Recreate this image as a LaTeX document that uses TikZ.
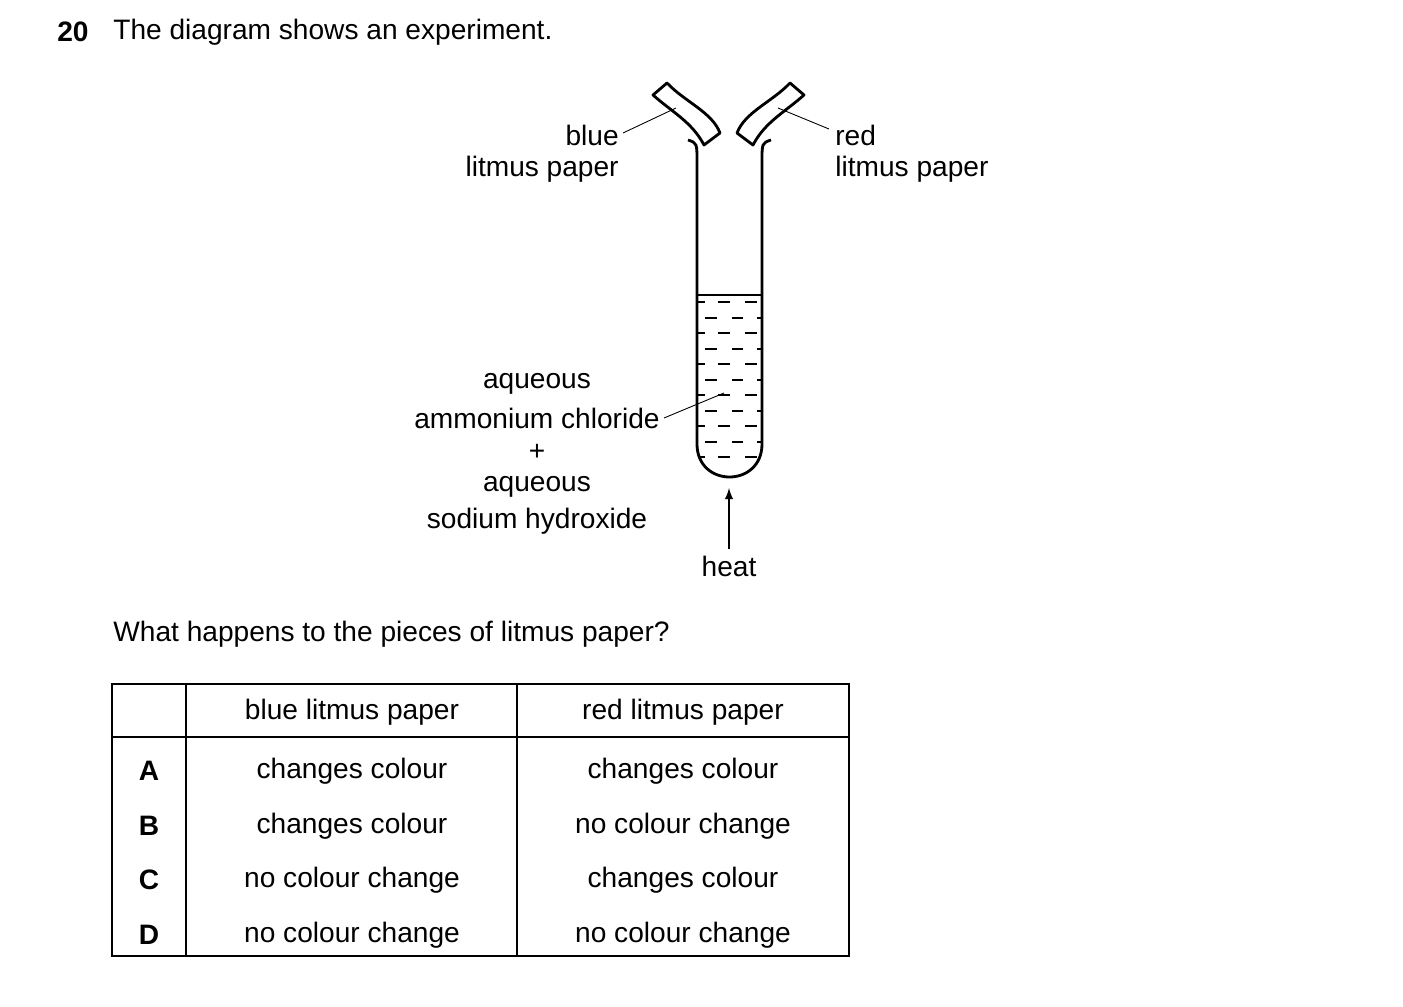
\documentclass[tikz,border=0pt]{standalone}
\usepackage{fontspec}
\setmainfont{Liberation Sans}
\begin{document}
\begin{tikzpicture}[x=0.02cm,y=-0.02cm]
\tikzset{txt/.style={inner sep=0pt,font=\fontsize{16}{19}\selectfont},
  wall/.style={black,line width=1.6pt},
  lead/.style={black,line width=0.5pt},
  grid/.style={black,line width=0.8pt}}
\useasboundingbox (0,0) rectangle (1403,1007);
\node [txt,anchor=west] (num) at (57,32) {\textbf{20}};
\node [txt,anchor=west] (intro) at (113,32) {The diagram shows an experiment.};
% test tube
\draw [wall] (688,140) .. controls (697,143) .. (697,162) -- (697,444)
  .. controls (697,488) and (762,488) .. (762,444) -- (762,162) .. controls (762,143) .. (771,140);
\draw [wall] (697,295) -- (762,295);
% liquid dashes
\foreach \y in {302,333,364,395,426,457}{
  \draw [black,line width=0.7pt] (698,\y) -- (705,\y) (718,\y) -- (730,\y) (745,\y) -- (757,\y);}
\foreach \y in {318,349,380,411,442}{
  \draw [black,line width=0.7pt] (705,\y) -- (717,\y) (732,\y) -- (743,\y) (757,\y) -- (762,\y);}
% litmus papers
\draw [wall,line join=round] (667,83) .. controls (685,102) and (712,112) .. (720,133) -- (704,145)
  .. controls (692,122) and (672,112) .. (653,95) -- cycle;
\draw [wall,line join=round] (790,83) .. controls (772,102) and (745,112) .. (737,133) -- (753,145)
  .. controls (765,122) and (785,112) .. (804,95) -- cycle;
\coordinate (bluept) at (676,108);
\coordinate (redpt) at (778,108);
\coordinate (liqpt) at (724,393);
\node [txt,anchor=east] (blue) at (619,135) {blue};
\node [txt,anchor=east] (bluelit) at (619,169) {litmus paper};
\node [txt,anchor=west] (red) at (835,135) {red};
\node [txt,anchor=west] (redlit) at (835,169) {litmus paper};
\draw [lead] (blue.east) ++(4,-2) coordinate (bl) -- (bluept);
\draw [lead] (red.west) ++(-6,-6) coordinate (rl) -- (redpt);
\node [txt] (aq1) at (537,384) {aqueous};
\node [txt] (amm) at (537,418) {ammonium chloride};
\node [txt] (plus) at (537,452) {+};
\node [txt] (aq2) at (537,487) {aqueous};
\node [txt] (sod) at (537,521) {sodium hydroxide};
\draw [lead] (amm.east) ++(4,0) -- (liqpt);
% heat
\node [txt] (heat) at (729,566) {heat};
\draw [black,line width=1.2pt,-latex] (heat.north) ++(0,-6) -- (729,488);
\node [txt,anchor=west] (question) at (113,634) {What happens to the pieces of litmus paper?};
% table
\draw [black,line width=0.9pt] (112,684) rectangle (849,956);
\draw [black,line width=0.9pt] (112,737) -- (849,737) (186,684) -- (186,956) (517,684) -- (517,956);
\node [txt] (h1) at (352,712) {blue litmus paper};
\node [txt] (h2) at (683,712) {red litmus paper};
\foreach \y/\l/\b/\r in {771/A/changes colour/changes colour,826/B/changes colour/no colour change,
  880/C/no colour change/changes colour,935/D/no colour change/no colour change}{
  \node [txt] (l\l) at (149,\y) {\textbf{\l}};
  \node [txt] (b\l) at (352,\y) {\b};
  \node [txt] (r\l) at (683,\y) {\r};}
\end{tikzpicture}
\end{document}
